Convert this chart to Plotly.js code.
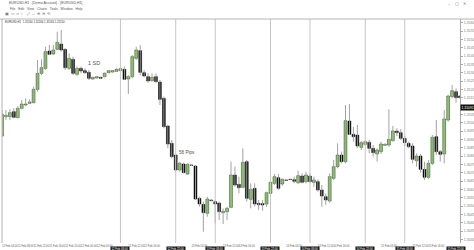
<!DOCTYPE html>
<html><head><meta charset="utf-8">
<script src="https://cdn.plot.ly/plotly-3.0.1.min.js"></script>
<style>html,body{margin:0;padding:0;background:#fff;overflow:hidden}#chart{width:474px;height:250px}</style>
</head><body><div id="chart"></div>
<script>
const openP = [
1.30920,1.31036,1.31036,1.31066,1.31030,1.31086,1.31106,1.31116,1.31120,1.31200,
1.31296,1.31326,1.31430,1.31412,1.31440,1.31472,1.31440,1.31326,1.31380,1.31290,
1.31326,1.31312,1.31302,1.31262,1.31268,1.31272,1.31276,1.31300,1.31304,1.31308,
1.31312,1.31320,1.31262,1.31276,1.31386,1.31432,1.31300,1.31276,1.31252,1.31276,
1.31244,1.31146,1.30980,1.30876,1.30806,1.30716,1.30752,1.30692,1.30746,1.30740,
1.30546,1.30510,1.30456,1.30536,1.30526,1.30518,1.30460,1.30466,1.30492,1.30686,
1.30630,1.30612,1.30766,1.30540,1.30606,1.30516,1.30514,1.30512,1.30576,1.30636,
1.30670,1.30632,1.30656,1.30660,1.30658,1.30640,1.30680,1.30646,1.30680,1.30642,
1.30646,1.30596,1.30556,1.30530,1.30666,1.30736,1.30806,1.30766,1.31010,1.30930,
1.30926,1.30852,1.30870,1.30882,1.30846,1.30812,1.30826,1.30864,1.30866,1.30892,
1.30950,1.30940,1.30906,1.30876,1.30860,1.30772,1.30800,1.30720,1.30672,1.30756,
1.30916,1.30826,1.30812,1.31016,1.31156,1.31186,1.31160];
const highP = [
1.31076,1.31076,1.31080,1.31086,1.31100,1.31136,1.31146,1.31140,1.31216,1.31376,
1.31380,1.31456,1.31466,1.31466,1.31546,1.31556,1.31446,1.31416,1.31396,1.31336,
1.31336,1.31326,1.31316,1.31276,1.31280,1.31276,1.31302,1.31316,1.31316,1.31326,
1.31336,1.31336,1.31286,1.31406,1.31456,1.31466,1.31316,1.31296,1.31296,1.31296,
1.31256,1.31156,1.30986,1.30896,1.30816,1.30766,1.30760,1.30756,1.30750,1.30746,
1.30556,1.30526,1.30556,1.30540,1.30536,1.30526,1.30486,1.30496,1.30766,1.30736,
1.30676,1.30846,1.30776,1.30636,1.30636,1.30536,1.30536,1.30586,1.30656,1.30692,
1.30692,1.30666,1.30658,1.30664,1.30676,1.30712,1.30696,1.30706,1.30696,1.30676,
1.30660,1.30626,1.30576,1.30696,1.30776,1.30876,1.30826,1.31106,1.31112,1.30976,
1.30986,1.30892,1.30896,1.30896,1.30866,1.30846,1.30886,1.30876,1.31080,1.30980,
1.30966,1.30960,1.30920,1.30886,1.30876,1.30816,1.30812,1.30766,1.30776,1.30926,
1.31016,1.30836,1.31076,1.31166,1.31226,1.31206,1.31164];
const lowP = [
1.30916,1.31016,1.31016,1.31026,1.31026,1.31080,1.31100,1.31112,1.31116,1.31186,
1.31286,1.31316,1.31406,1.31406,1.31436,1.31426,1.31316,1.31316,1.31286,1.31280,
1.31296,1.31292,1.31256,1.31258,1.31264,1.31262,1.31272,1.31296,1.31300,1.31304,
1.31308,1.31256,1.31172,1.31266,1.31376,1.31286,1.31272,1.31240,1.31246,1.31240,
1.31106,1.30966,1.30846,1.30786,1.30706,1.30706,1.30696,1.30686,1.30740,1.30536,
1.30496,1.30346,1.30436,1.30528,1.30396,1.30416,1.30392,1.30416,1.30486,1.30616,
1.30576,1.30606,1.30526,1.30486,1.30496,1.30476,1.30472,1.30496,1.30566,1.30626,
1.30596,1.30622,1.30652,1.30656,1.30636,1.30632,1.30636,1.30636,1.30636,1.30616,
1.30586,1.30496,1.30506,1.30520,1.30656,1.30726,1.30756,1.30756,1.30926,1.30886,
1.30846,1.30836,1.30860,1.30816,1.30796,1.30766,1.30812,1.30860,1.30856,1.30886,
1.30920,1.30896,1.30860,1.30846,1.30756,1.30736,1.30700,1.30656,1.30660,1.30746,
1.30806,1.30766,1.30756,1.31006,1.31146,1.31120,1.31146];
const closeP = [
1.31050,1.31044,1.31060,1.31032,1.31086,1.31112,1.31112,1.31124,1.31200,1.31296,
1.31330,1.31426,1.31410,1.31436,1.31482,1.31436,1.31330,1.31386,1.31296,1.31326,
1.31310,1.31300,1.31266,1.31272,1.31276,1.31266,1.31296,1.31312,1.31312,1.31320,
1.31324,1.31260,1.31276,1.31396,1.31436,1.31302,1.31280,1.31250,1.31272,1.31246,
1.31140,1.30976,1.30872,1.30796,1.30716,1.30756,1.30700,1.30750,1.30744,1.30542,
1.30512,1.30460,1.30542,1.30532,1.30512,1.30466,1.30468,1.30486,1.30686,1.30626,
1.30610,1.30762,1.30546,1.30600,1.30512,1.30508,1.30506,1.30580,1.30642,1.30676,
1.30606,1.30660,1.30654,1.30658,1.30648,1.30682,1.30642,1.30686,1.30646,1.30656,
1.30596,1.30560,1.30536,1.30676,1.30736,1.30806,1.30766,1.31012,1.30930,1.30916,
1.30860,1.30880,1.30886,1.30846,1.30820,1.30836,1.30872,1.30870,1.30900,1.30950,
1.30940,1.30906,1.30880,1.30856,1.30780,1.30800,1.30720,1.30672,1.30756,1.30912,
1.30826,1.30810,1.31022,1.31160,1.31192,1.31150,1.31150];

const separatorIdx = [30,44,54,68,78,92,102];
const separatorLabels = ['12 Feb 08:00','12 Feb 22:00','13 Feb 08:00','13 Feb 22:00','14 Feb 08:00','14 Feb 22:00','15 Feb 08:00'];
const timeTickIdx = [2,6,10,14,18,22,26,34,38,50,58,62,74,82,86,98,106,110];
const timeTickText = ['11 Feb 04:00','11 Feb 08:00','11 Feb 12:00','11 Feb 16:00','11 Feb 20:00','12 Feb 00:00','12 Feb 04:00','12 Feb 12:00','12 Feb 16:00','13 Feb 04:00','13 Feb 12:00','13 Feb 16:00','14 Feb 04:00','14 Feb 12:00','14 Feb 16:00','15 Feb 04:00','15 Feb 12:00','15 Feb 16:00'];
const lastTimeLabel = '15 Feb 22:00';
const priceTicks = [1.3160,1.3155,1.3150,1.3145,1.3140,1.3135,1.3130,1.3125,1.3120,1.3115,1.3105,1.3100,1.3095,1.3090,1.3085,1.3080,1.3075,1.3070,1.3065,1.3060,1.3055,1.3050,1.3045,1.3040,1.3035,1.3030];
const priceTag = 1.31092;
const priceTagText = '1.31092';
const symbolTitle = 'EURUSD,H1';

const n = openP.length;
const idx = openP.map((_, i) => i);

const wx = [], wy = [];
idx.forEach(i => { wx.push(i, i, null); wy.push(lowP[i], highP[i], null); });

const upX = [], upBase = [], upLen = [], dnX = [], dnBase = [], dnLen = [];
idx.forEach(i => {
  if (closeP[i] > openP[i]) { upX.push(i); upBase.push(openP[i]); upLen.push(closeP[i] - openP[i]); }
  else { dnX.push(i); dnBase.push(closeP[i]); dnLen.push(Math.max(openP[i] - closeP[i], 0.00001)); }
});

const traces = [
  {type:'scatter', mode:'lines', x:wx, y:wy, line:{color:'#a2a2a2', width:1}, hoverinfo:'skip', showlegend:false},
  {type:'bar', x:upX, base:upBase, y:upLen, width:0.72, marker:{color:'#7ede4a', line:{color:'#2c2c2c', width:0.5}}, hoverinfo:'skip', showlegend:false},
  {type:'bar', x:dnX, base:dnBase, y:dnLen, width:0.72, marker:{color:'#000000', line:{color:'#000000', width:0.5}}, hoverinfo:'skip', showlegend:false}
];

const L = 2, R = 460, T = 19, B = 243;
const px = x => (x - L) / (R - L);
const py = y => (B - y) / (B - T);

const shapes = separatorIdx.map(s => ({type:'line', xref:'x', yref:'paper', x0:s, x1:s, y0:0, y1:1, line:{color:'#c6c6c6', width:1}}));
shapes.push({type:'line', xref:'paper', yref:'paper', x0:0, x1:0, y0:0, y1:1, line:{color:'#b4b4b4', width:1}});
shapes.push({type:'line', xref:'paper', yref:'paper', x0:px(0), x1:px(474), y0:1, y1:1, line:{color:'#b4b4b4', width:1}});

const ann = [];
const FF = 'Liberation Sans, Arial, sans-serif';
const txt = (x, y, text, size, color, anchor) => ann.push({xref:'paper', yref:'paper', x:px(x), y:py(y), text:text, showarrow:false, xanchor:anchor||'left', yanchor:'middle', font:{size:size, color:color, family:FF}});
txt(7, 3, symbolTitle + ' - [Demo Account] - [' + symbolTitle + ']', 3.5, '#555');
txt(8, 9, 'File   Edit   View   Charts   Tools   Window   Help', 3.4, '#555');
txt(3, 14, '▣  ⇦  ⇨  ↕    ⤢  ↔  ⊕  ⊖  ⟲', 3.6, '#777');
txt(468, 3, '–    ▢    ✕', 4, '#666', 'right');
txt(3, 21.5, symbolTitle + '  1.31160 1.31164 1.31146 1.31150', 2.8, '#333');
txt(86, 62.5, '1 SD', 5.5, '#555');
txt(177, 152, '58 Pips', 4.6, '#555');

separatorIdx.forEach((s, k) => ann.push({xref:'x', yref:'paper', x:s, y:0, yanchor:'top', yshift:-2.5, text:separatorLabels[k], showarrow:false, bgcolor:'#111', borderpad:0.4, font:{size:2.8, color:'#fff', family:FF}}));
ann.push({xref:'paper', yref:'paper', x:px(466), y:0, xanchor:'right', yanchor:'top', yshift:-2.5, text:lastTimeLabel, showarrow:false, bgcolor:'#111', borderpad:0.4, font:{size:2.8, color:'#fff', family:FF}});
ann.push({xref:'paper', yref:'y', x:1, y:priceTag, xanchor:'left', yanchor:'middle', text:priceTagText, showarrow:false, bgcolor:'#111', borderpad:0.5, font:{size:3.4, color:'#fff', family:FF}});

const layout = {
  width:474, height:250,
  margin:{l:L, r:474 - R, t:T, b:250 - B, pad:0},
  paper_bgcolor:'#ffffff', plot_bgcolor:'#ffffff',
  barmode:'overlay', bargap:0, showlegend:false,
  font:{family:FF, color:'#777', size:4},
  xaxis:{range:[0, n - 1], showgrid:false, zeroline:false, showline:false, tickmode:'array', tickvals:timeTickIdx, ticktext:timeTickText, tickangle:0, ticks:'', tickfont:{size:2.7, color:'#5a5a5a'}, fixedrange:true},
  yaxis:{side:'right', range:[1.30278, 1.31622], tickmode:'array', tickvals:priceTicks, tickformat:'.4f', showgrid:false, zeroline:false, showline:true, linecolor:'#a8a8a8', linewidth:1, ticks:'outside', ticklen:2, tickcolor:'#aaa', tickfont:{size:3.6, color:'#7a7a7a'}, fixedrange:true},
  shapes:shapes, annotations:ann
};
Plotly.newPlot('chart', traces, layout, {staticPlot:true, displayModeBar:false});
</script></body></html>
